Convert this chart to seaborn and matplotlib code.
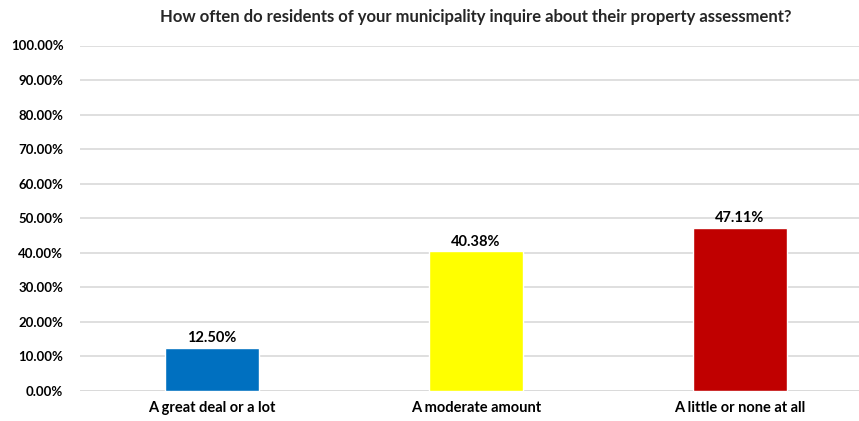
import matplotlib
matplotlib.use("Agg")
import matplotlib.pyplot as plt
import pandas as pd
import seaborn as sns
from matplotlib.ticker import FuncFormatter

categories = ["A great deal or a lot", "A moderate amount", "A little or none at all"]
shares = [12.50, 40.38, 47.11]
bar_colors = ["#0070C0", "#FFFF00", "#C00000"]
title = "How often do residents of your municipality inquire about their property assessment?"

df = pd.DataFrame({"category": categories, "share": shares})

sns.set_theme(style="white")
plt.rcParams["font.family"] = ["Lato", "DejaVu Sans"]
plt.rcParams["font.weight"] = "bold"

fig = plt.figure(figsize=(8.59, 4.21), dpi=100)
ax = fig.add_axes([80 / 859, 30 / 421, 792 / 859, 345.5 / 421])

sns.barplot(data=df, x="category", y="share", hue="category", palette=bar_colors,
            legend=False, width=0.356, saturation=1, ax=ax, zorder=3)

ax.set_xlim(-0.5, 2.5)
ax.set_ylim(0, 100)
ax.set_yticks(range(0, 101, 10))
ax.yaxis.set_major_formatter(FuncFormatter(lambda v, _: f"{v:.2f}%"))
ax.grid(axis="y", color="#d9d9d9", linewidth=1.2, zorder=0)
for side in ["top", "right", "left", "bottom"]:
    ax.spines[side].set_visible(False)
ax.axhline(0, color="#d9d9d9", linewidth=1.2, zorder=1)
ax.tick_params(axis="y", length=0, labelsize=9.5, colors="#000000", pad=12)
ax.tick_params(axis="x", length=0, labelsize=10.5, colors="#000000", pad=7)
for lbl in ax.get_xticklabels() + ax.get_yticklabels():
    lbl.set_fontweight("bold")
ax.set_xlabel("")
ax.set_ylabel("")

for container in ax.containers:
    ax.bar_label(container, labels=[f"{v:.2f}%" for v in container.datavalues],
                 padding=2, fontsize=10.5, fontweight="bold", color="#000000")

fig.text(0.554, 0.96, title, ha="center", va="center", fontsize=12, fontweight="bold")

fig.savefig("out.png", dpi=100)
